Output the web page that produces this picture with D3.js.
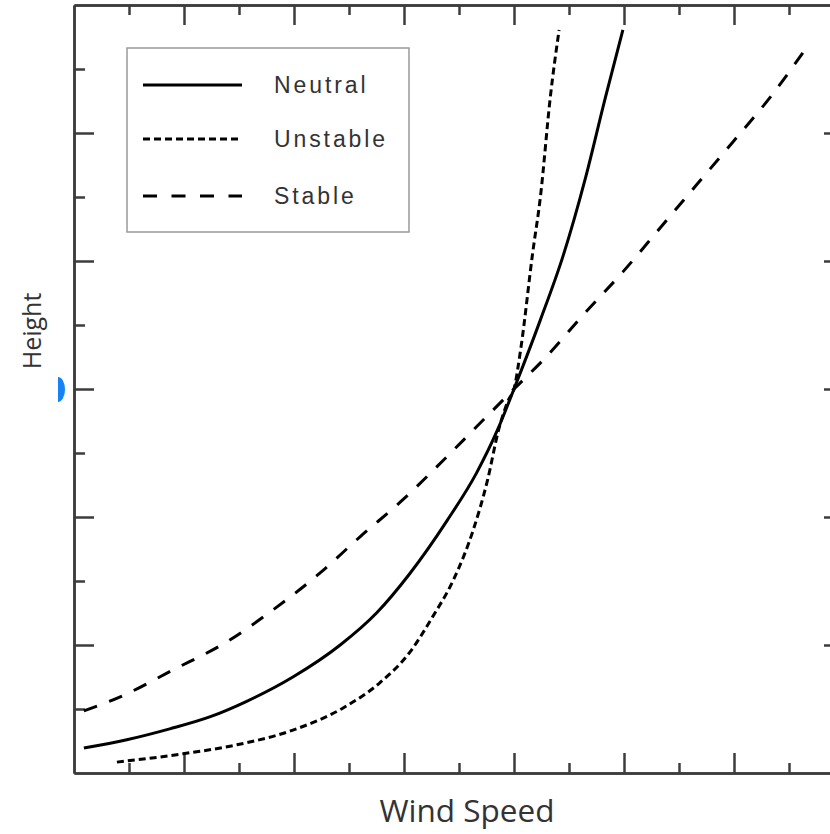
<!DOCTYPE html>
<html>
<head>
<meta charset="utf-8">
<script src="https://cdn.jsdelivr.net/npm/d3@7"></script>
<style>
  html, body { margin: 0; padding: 0; background: #fff; }
  svg { display: block; }
</style>
</head>
<body>
<svg id="chart" width="830" height="834"></svg>
<script>
// ---- data ----
const seriesNames = ["Neutral", "Unstable", "Stable"];

const neutralWind   = [0.09, 0.48, 0.87, 1.24, 1.57, 1.99, 2.42, 2.75, 3.05, 3.39, 3.66, 3.85, 4.00, 4.24, 4.45, 4.65, 4.83, 4.99];
const neutralHeight = [0.39, 0.52, 0.69, 0.88, 1.12, 1.50, 2.00, 2.50, 3.11, 3.94, 4.69, 5.36, 6.00, 7.08, 8.10, 9.30, 10.55, 11.61];

const unstableWind   = [0.39, 0.99, 1.48, 1.99, 2.45, 2.78, 3.05, 3.26, 3.45, 3.63, 3.76, 3.86, 3.95, 4.00, 4.06, 4.17, 4.24, 4.33, 4.41];
const unstableHeight = [0.17, 0.30, 0.44, 0.67, 1.02, 1.41, 1.88, 2.44, 3.02, 3.80, 4.58, 5.36, 5.83, 6.00, 6.61, 8.13, 9.00, 10.56, 11.61];

const stableWind   = [0.09, 0.42, 0.90, 1.39, 1.81, 2.24, 2.60, 2.99, 3.36, 3.74, 4.00, 4.28, 4.63, 4.99, 5.33, 5.66, 5.99, 6.33, 6.69];
const stableHeight = [0.97, 1.19, 1.61, 2.05, 2.55, 3.13, 3.69, 4.27, 4.89, 5.55, 6.00, 6.48, 7.16, 7.83, 8.52, 9.19, 9.86, 10.56, 11.41];

const xMajorTicks = [0, 1, 2, 3, 4, 5, 6, 7];
const xMinorTicks = [0.5, 1.5, 2.5, 3.5, 4.5, 5.5, 6.5];
const yMajorTicks = [0, 2, 4, 6, 8, 10, 12];
const yMinorTicks = [1, 3, 5, 7, 9, 11];

const xLabel = "Wind Speed";
const yLabel = "Height";

// ---- drawing ----
(function () {
const svg = d3.select("#chart");
const pLeft = 74, pRight = 844, pTop = 5, pBottom = 773;

const x = d3.scaleLinear().domain([0, 7]).range([pLeft, pRight]);
const y = d3.scaleLinear().domain([0, 12]).range([pBottom, pTop]);

const axisColor = "#3c3c3c";
const axisW = 2.5;

function styleAxis(g) {
  g.select(".domain").attr("stroke", axisColor).attr("stroke-width", axisW);
  g.selectAll(".tick line").attr("stroke", axisColor).attr("stroke-width", axisW);
  g.selectAll(".tick text").remove();
}

// bottom axis (ticks pointing inward/up)
svg.append("g").attr("transform", `translate(0,${pBottom})`)
  .call(d3.axisTop(x).tickValues(xMajorTicks.filter(d => d > 0)).tickSize(20).tickSizeOuter(0))
  .call(styleAxis);
svg.append("g").attr("transform", `translate(0,${pBottom})`)
  .call(d3.axisTop(x).tickValues(xMinorTicks).tickSize(10).tickSizeOuter(0))
  .call(styleAxis);
// top axis (ticks pointing down)
svg.append("g").attr("transform", `translate(0,${pTop})`)
  .call(d3.axisBottom(x).tickValues(xMajorTicks.filter(d => d > 0)).tickSize(20).tickSizeOuter(0))
  .call(styleAxis);
svg.append("g").attr("transform", `translate(0,${pTop})`)
  .call(d3.axisBottom(x).tickValues(xMinorTicks).tickSize(10).tickSizeOuter(0))
  .call(styleAxis);
// left axis (ticks pointing right)
svg.append("g").attr("transform", `translate(${pLeft},0)`)
  .call(d3.axisRight(y).tickValues(yMajorTicks.filter(d => d > 0 && d < 12)).tickSize(20).tickSizeOuter(0))
  .call(styleAxis);
svg.append("g").attr("transform", `translate(${pLeft},0)`)
  .call(d3.axisRight(y).tickValues(yMinorTicks).tickSize(11).tickSizeOuter(0))
  .call(styleAxis);
// right axis (ticks pointing left)
svg.append("g").attr("transform", `translate(${pRight},0)`)
  .call(d3.axisLeft(y).tickValues(yMajorTicks.filter(d => d > 0 && d < 12)).tickSize(20).tickSizeOuter(0))
  .call(styleAxis);
svg.append("g").attr("transform", `translate(${pRight},0)`)
  .call(d3.axisLeft(y).tickValues(yMinorTicks).tickSize(11).tickSizeOuter(0))
  .call(styleAxis);

// curves
const line = d3.line().x(d => x(d[0])).y(d => y(d[1])).curve(d3.curveMonotoneX);
const styles = {
  Neutral:  { dash: null,    w: 3 },
  Unstable: { dash: "7,4",   w: 3 },
  Stable:   { dash: "14,13", w: 3 }
};
const series = [
  { name: "Neutral",  pts: d3.zip(neutralWind, neutralHeight) },
  { name: "Unstable", pts: d3.zip(unstableWind, unstableHeight) },
  { name: "Stable",   pts: d3.zip(stableWind, stableHeight) }
];
svg.append("g").selectAll("path").data(series).join("path")
  .attr("d", d => line(d.pts))
  .attr("fill", "none")
  .attr("stroke", "#000")
  .attr("stroke-width", d => styles[d.name].w)
  .attr("stroke-dasharray", d => styles[d.name].dash);

// legend
const lg = svg.append("g");
lg.append("rect").attr("x", 127).attr("y", 48).attr("width", 282).attr("height", 184)
  .attr("fill", "#fff").attr("stroke", "#999").attr("stroke-width", 1.5);
const legendY = [85, 139, 196];
seriesNames.forEach((name, i) => {
  lg.append("line").attr("x1", 143).attr("x2", 242).attr("y1", legendY[i]).attr("y2", legendY[i])
    .attr("stroke", "#000").attr("stroke-width", 3)
    .attr("stroke-dasharray", name === "Stable" ? "14,14.5" : styles[name].dash);
  lg.append("text").attr("x", 274).attr("y", legendY[i] + 8)
    .attr("font-family", "Liberation Sans, Arial, sans-serif")
    .attr("font-size", 23).attr("letter-spacing", 2.9)
    .attr("fill", "#333").text(name);
});

// axis titles
svg.append("text").attr("x", 467).attr("y", 822).attr("text-anchor", "middle")
  .attr("font-family", "Open Sans, sans-serif").attr("font-size", 31.5).attr("fill", "#333")
  .text(xLabel);
svg.append("text").attr("transform", "translate(41,331) rotate(-90)").attr("text-anchor", "middle")
  .attr("font-family", "Open Sans, sans-serif").attr("font-size", 25).attr("fill", "#333")
  .text(yLabel);

// small blue marker at left edge
svg.append("path").attr("d", "M58,377 A7,12.5 0 0 1 58,402 Z").attr("fill", "#1583f6");
})();
</script>
</body>
</html>
